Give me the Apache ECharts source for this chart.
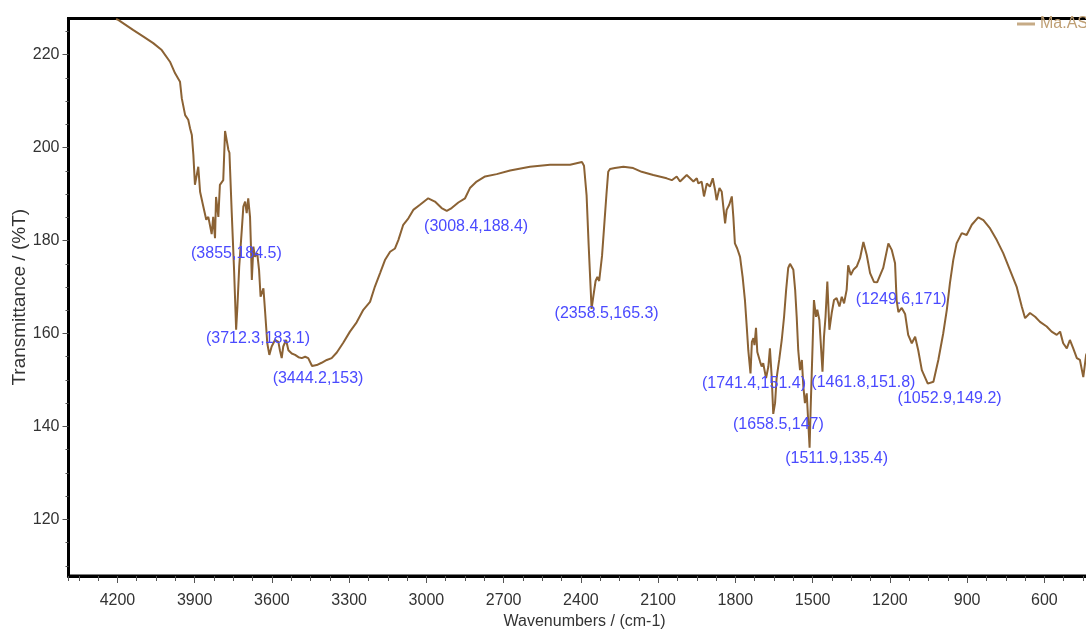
<!DOCTYPE html>
<html><head><meta charset="utf-8">
<script src="https://cdn.jsdelivr.net/npm/echarts@6/dist/echarts.min.js"></script>
<style>html,body{margin:0;padding:0;background:#fff}#c{width:1086px;height:632px}</style>
</head><body><div id="c"></div>
<script>
// ---- data ----
const wavenumbers = [4205,4197,4138,4099,4061,4028,3996,3976,3957,3950,3937,3925,3918,3911,3905,3899,3886,3879,3868,3855,3847,3834,3828,3821,3817,3808,3802,3789,3782,3776,3769,3765,3756,3747,3739,3734,3727,3717,3711,3704,3698,3692,3685,3681,3678,3672,3666,3657,3650,3644,3633,3627,3618,3610,3601,3588,3575,3569,3562,3556,3545,3536,3523,3510,3497,3484,3471,3459,3444.2,3426,3407,3387,3368,3348,3323,3297,3271,3245,3219,3200,3180,3161,3141,3122,3109,3090,3070,3051,3025,2993,2967,2941,2921,2902,2876,2850,2831,2805,2772,2727,2675,2598,2520,2442,2396,2388,2378,2370,2362,2358.5,2352,2343,2336,2329,2318,2308,2301,2294,2287,2268,2235,2197,2164,2119,2067,2047,2028,2015,2002,1989,1976,1963,1950,1944,1931,1922,1911,1899,1888,1879,1873,1862,1853,1847,1840,1834,1824,1814,1808,1802,1793,1782,1772,1763,1756,1750,1741.4,1736,1730,1726,1720,1715,1704,1698,1692,1681,1672,1666,1659,1653,1646,1640,1630,1620,1611,1603,1595,1588,1581,1575,1568,1562,1556,1549,1542,1536,1530,1523,1511.9,1508,1500,1495,1487,1482,1474,1461.8,1456,1450,1443,1435,1426,1417,1407,1396,1387,1378,1368,1362,1352,1342,1329,1316,1303,1290,1277,1262,1249.6,1226,1206,1193,1180,1174,1167,1154,1141,1129,1115,1102,1090,1076,1052.9,1031,1012,993,979,967,954,941,921,902,882,857,837,811,785,760,734,708,688,675,656,636,617,591,572,552,539,527,513,501,488,474,462,449,438,425];
const transmittance = [227.7,227.5,225.3,223.9,222.5,221.0,218.5,216.0,214.2,210.6,207.0,206.0,204.2,202.7,198.4,192.0,195.9,190.5,187.7,184.5,185.1,181.4,185.1,180.5,189.4,185.1,192.0,193.0,203.6,203.8,199.5,198.9,185.9,173.7,160.8,165.8,174.4,182.3,187.3,188.4,185.9,189.1,185.1,178.0,171.5,178.7,176.5,177.3,173.7,167.9,169.7,165.1,157.9,155.4,157.2,158.6,158.2,156.4,154.7,157.2,158.6,156.4,155.7,155.4,154.9,154.7,155.0,154.7,153.0,153.2,153.7,154.3,154.7,155.9,158.0,160.4,162.4,165.1,166.8,170.1,173.0,175.8,177.6,178.3,180.1,183.4,184.8,186.6,187.7,189.1,188.4,187.0,186.4,187.0,188.2,189.1,191.3,192.7,193.8,194.3,195.1,195.9,196.3,196.3,196.9,196.1,189.8,179.1,169.4,165.3,167.9,171.3,172.2,171.3,176.7,184.4,189.8,194.8,195.4,195.6,195.9,195.6,194.8,194.1,193.4,193.0,193.8,192.7,193.4,194.1,193.4,192.7,193.4,192.3,192.7,189.5,192.3,191.6,193.4,190.9,188.7,191.3,190.5,187.3,183.7,186.6,187.7,189.5,185.1,179.4,178.3,176.5,172.2,167.2,161.5,156.4,151.4,158.2,159.0,157.5,161.2,156.0,153.9,152.9,153.6,150.4,152.9,156.8,150.6,142.7,145.0,150.4,154.3,158.6,163.6,169.4,174.1,175.0,175.1,173.7,169.4,163.6,156.4,152.1,154.3,148.5,145.0,147.1,135.4,143.5,157.9,167.2,163.6,165.1,162.9,151.8,159.3,163.6,171.2,160.8,164.4,167.2,167.6,165.8,167.9,166.5,169.4,174.7,172.6,173.7,174.4,176.2,179.7,176.9,173.0,171.1,171.0,174.1,179.4,178.0,175.1,167.2,164.6,165.5,164.2,159.7,157.9,159.3,156.4,152.1,149.2,149.6,154.3,160.0,165.1,170.8,175.8,179.4,181.6,181.2,183.4,185.0,184.4,182.6,180.1,177.3,173.7,170.1,165.8,163.3,164.4,163.6,162.5,161.5,160.4,159.7,160.4,157.9,156.8,158.6,156.8,154.7,154.3,150.6,155.4,157.0];

// peak annotations: text and where its centre sits (data units)
const annoText = ['(3855,184.5)','(3712.3,183.1)','(3444.2,153)','(3008.4,188.4)','(2358.5,165.3)','(1741.4,151.4)','(1461.8,151.8)','(1658.5,147)','(1511.9,135.4)','(1249.6,171)','(1052.9,149.2)'];
const annoX = [3738,3654,3421,2807,2300,1728,1303,1633,1407,1156,968];
const annoY = [177.3,159.0,150.2,183.1,164.2,149.3,149.4,140.3,133.1,167.4,145.9];

// tick values
const yMajorTicks = [120,140,160,180,200,220];
const yMinorTicks = [110,115,125,130,135,145,150,155,165,170,175,185,190,195,205,210,215,225];

const seriesName = 'Ma.AS';
const xMin = 300, xMax = 4390, xStep = 300, xMinorStep = 75;
const yMin = 107.8, yMax = 227.8;

const FONT = "'Liberation Sans', Arial, sans-serif";
const chart = echarts.init(document.getElementById('c'));
const data = wavenumbers.map((w, i) => [w, transmittance[i]]);
const plain = v => String(v);

chart.setOption({
  animation: false,
  grid: { left: 68.5, right: -35.65, top: 18.5, bottom: 56, show: true, borderColor: '#000', borderWidth: 3, containLabel: false, outerBoundsMode: 'none' },
  legend: {
    left: 1017, top: 16, padding: 0, icon: 'rect', itemWidth: 18, itemHeight: 3, itemGap: 5,
    itemStyle: { color: '#c6ab86' },
    textStyle: { color: '#bf9f74', fontSize: 16, fontFamily: FONT },
    data: [seriesName]
  },
  xAxis: [{
    type: 'value', inverse: true, min: xMin, max: xMax, interval: xStep, position: 'bottom',
    name: 'Wavenumbers / (cm-1)', nameLocation: 'middle', nameGap: 38, nameMoveOverlap: false,
    nameTextStyle: { color: '#333', fontSize: 16, fontFamily: FONT, padding: [0, 21, 0, 0] },
    axisLine: { show: true, lineStyle: { color: '#000', width: 3 } },
    axisTick: { show: true, length: 7, lineStyle: { color: '#555', width: 1 } },
    axisLabel: { color: '#333', fontSize: 16, fontFamily: FONT, margin: 17, showMinLabel: false, showMaxLabel: false, formatter: plain },
    splitLine: { show: false }
  }, {
    type: 'value', inverse: true, min: xMin, max: xMax, interval: xMinorStep, position: 'bottom',
    axisLine: { show: false }, axisLabel: { show: false }, splitLine: { show: false },
    axisTick: { show: true, length: 5, lineStyle: { color: '#555', width: 1 } }
  }],
  yAxis: [{
    type: 'value', min: yMin, max: yMax, position: 'left',
    name: 'Transmittance / (%T)', nameLocation: 'middle', nameGap: 39, nameMoveOverlap: false,
    nameTextStyle: { color: '#333', fontSize: 19, fontFamily: FONT },
    axisLine: { show: true, lineStyle: { color: '#000', width: 3 } },
    axisTick: { show: true, length: 6, customValues: yMajorTicks, lineStyle: { color: '#555', width: 1 } },
    axisLabel: { color: '#333', fontSize: 16, fontFamily: FONT, margin: 9, customValues: yMajorTicks, formatter: plain },
    splitLine: { show: false }
  }, {
    type: 'value', min: yMin, max: yMax, position: 'left',
    axisLine: { show: false }, axisLabel: { show: false }, splitLine: { show: false },
    axisTick: { show: true, length: 3, customValues: yMinorTicks, lineStyle: { color: '#555', width: 1 } }
  }],
  series: [{
    name: seriesName, type: 'line', data: data, xAxisIndex: 0, yAxisIndex: 0,
    showSymbol: false, symbol: 'none', clip: true,
    lineStyle: { color: '#8b6234', width: 2 }, itemStyle: { color: '#8b6234' },
    markPoint: {
      symbol: 'circle', symbolSize: 1, silent: true,
      itemStyle: { color: 'rgba(0,0,0,0)' },
      label: { show: true, position: 'inside', color: '#4a4aff', fontSize: 16, fontFamily: FONT, formatter: p => p.name },
      data: annoText.map((t, i) => ({ name: t, coord: [annoX[i], annoY[i]] }))
    }
  }]
});
</script></body></html>
